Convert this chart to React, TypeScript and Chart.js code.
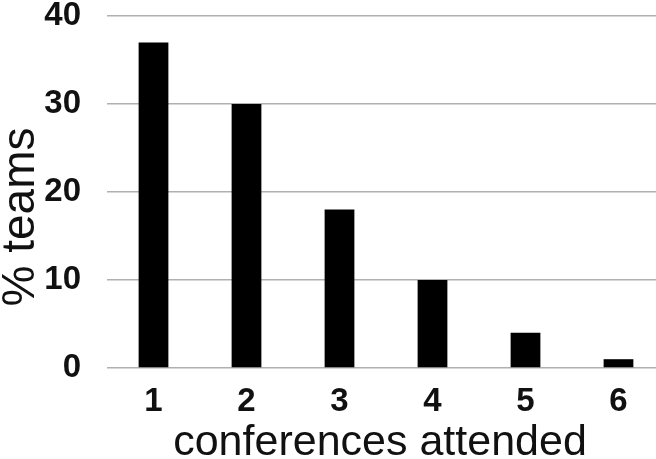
import React, { useEffect, useRef } from "react";
import { Chart, registerables } from "chart.js";

Chart.register(...registerables);

const categories = ["1", "2", "3", "4", "5", "6"];
const teamPercents = [37, 30, 18, 10, 4, 1];
const yTicks = [0, 10, 20, 30, 40];
const xTitle = "conferences attended";
const yTitle = "% teams";

const titlePlugin = {
  id: "axisTitles",
  afterDraw(chart: any) {
    const ctx = chart.ctx;
    ctx.save();
    ctx.fillStyle = "#111";
    ctx.font = "43px 'Liberation Sans', Arial, sans-serif";
    ctx.textAlign = "center";
    ctx.textBaseline = "alphabetic";
    ctx.fillText(xTitle, 380, 455);
    ctx.translate(34, 217);
    ctx.rotate(-Math.PI / 2);
    ctx.font = "46px 'Liberation Sans', Arial, sans-serif";
    ctx.fillText(yTitle, 0, 0);
    ctx.restore();
  },
};

export default function App() {
  const ref = useRef<HTMLCanvasElement | null>(null);
  useEffect(() => {
    if (!ref.current) return;
    const chart = new Chart(ref.current, {
      type: "bar",
      data: {
        labels: categories,
        datasets: [
          {
            data: teamPercents,
            backgroundColor: "#000",
            borderWidth: 0,
            barPercentage: 0.32,
            categoryPercentage: 1,
          },
        ],
      },
      plugins: [titlePlugin],
      options: {
        animation: false,
        responsive: false,
        maintainAspectRatio: false,
        layout: { padding: { top: 16, right: 0, left: 0, bottom: 0 } },
        plugins: { legend: { display: false }, tooltip: { enabled: false } },
        scales: {
          x: {
            offset: true,
            grid: { display: false, drawTicks: false },
            border: { display: false },
            ticks: {
              color: "#111",
              padding: 14,
              font: { family: "'Liberation Sans', Arial, sans-serif", size: 33, weight: "bold" },
            },
            afterFit: (axis: any) => {
              axis.height = 91;
              axis.paddingLeft = 0;
              axis.paddingRight = 0;
            },
          },
          y: {
            min: 0,
            max: 40,
            afterBuildTicks: (axis: any) => {
              axis.ticks = yTicks.map((v) => ({ value: v }));
            },
            grid: { color: "#b0b0b0", lineWidth: 1.5, drawTicks: false },
            border: { display: false },
            ticks: {
              color: "#111",
              padding: 26,
              font: { family: "'Liberation Sans', Arial, sans-serif", size: 33, weight: "bold" },
            },
            afterFit: (axis: any) => {
              axis.width = 107;
              axis.paddingTop = 0;
              axis.paddingBottom = 0;
            },
          },
        },
      },
    });
    return () => chart.destroy();
  }, []);
  return (
    <div style={{ position: "absolute", left: 0, top: 0, width: 656, height: 459, overflow: "hidden", background: "#fff" }}>
      <canvas ref={ref} width={665} height={459} style={{ display: "block", width: 665, height: 459 }} />
    </div>
  );
}
